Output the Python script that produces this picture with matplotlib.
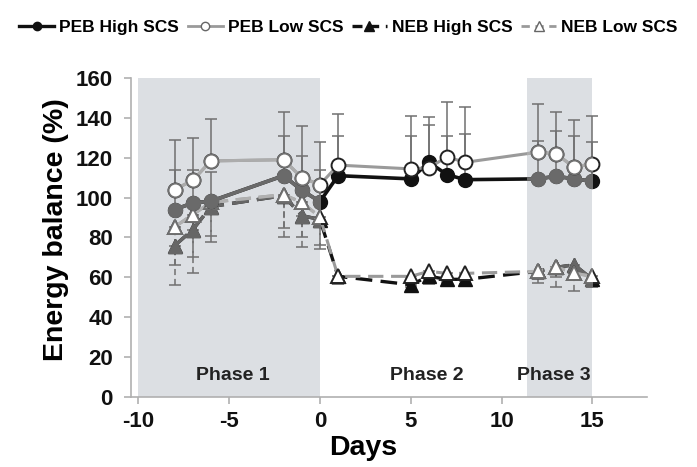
import matplotlib
matplotlib.use("Agg")
import matplotlib.pyplot as plt
import numpy as np
from matplotlib.patches import Rectangle
from matplotlib.lines import Line2D

plt.rcParams['font.family'] = ['Liberation Sans', 'DejaVu Sans']

# ---------------- data ----------------
days = [-8, -7, -6, -2, -1, 0, 1, 5, 6, 7, 8, 12, 13, 14, 15]

peb_high = [94, 97.3, 98.2, 111, 103.7, 98, 111, 109.4, 117.7, 111.5, 109, 109.4, 110.7, 109.4, 108.2]
peb_high_err = [19.6, 16.7, 14.8, 20, 17, 16, 19.8, 21.4, 18.8, 19.3, 22.8, 18.8, 22.6, 21.4, 19.8]

peb_low = [104, 108.7, 118.4, 119, 110, 106.5, 116.3, 114.4, 115, 120.4, 117.7, 122.8, 122, 115.2, 117]
peb_low_err = [25, 21, 21, 24, 26, 21.5, 25.4, 26.3, 25.3, 27.6, 27.9, 24.2, 21, 23.5, 23.7]

neb_high = [75.9, 83.9, 95.5, 101, 91, 89, 60.5, 56.3, 60.5, 59, 59, 63, 65, 66.3, 59]
neb_high_err = [19.9, 21.9, 18, 21, 16, 15, 3.9, 1.3, 3.9, 2, 2.4, 5.6, 9.7, 13, 4]

neb_low = [85.3, 91.5, 97.6, 101.5, 97.6, 90.3, 60.5, 60.5, 63, 62, 62, 63, 65.2, 62.1, 60.5]
neb_low_err = [19.3, 21.5, 17.1, 16.5, 17.6, 14.3, 2.5, 3.5, 4, 4, 4, 4, 5.2, 2.1, 3.5]

phases = ["Phase 1", "Phase 2", "Phase 3"]
phase_x = [-4.8, 5.9, 12.9]
phase_spans = [(-10, 0), (11.4, 15)]
xticks = [-10, -5, 0, 5, 10, 15]
yticks = [0, 20, 40, 60, 80, 100, 120, 140, 160]

# ---------------- figure ----------------
fig = plt.figure(figsize=(6.97, 4.67), dpi=100)
ax = fig.add_axes([0.188, 0.150, 0.740, 0.683])

shade = '#dcdfe3'
for a, b in phase_spans:
    ax.axvspan(a, b, ymin=0, ymax=1, color=shade, zorder=0, lw=0)

errc = '#707070'
z = np.zeros(len(days))
ekw = dict(fmt='none', ecolor=errc, elinewidth=1.1, capsize=4, capthick=1.1, zorder=2)
e1 = ax.errorbar(days, peb_low, yerr=[z, peb_low_err], **ekw)
e2 = ax.errorbar(days, peb_high, yerr=[z, peb_high_err], **ekw)
e3 = ax.errorbar(days, neb_high, yerr=[neb_high_err, z], **ekw)
e4 = ax.errorbar(days, neb_low, yerr=[neb_low_err, z], **ekw)
for e in (e3, e4):
    for lc in e[2]:
        lc.set_linestyle((0, (4, 2.5)))

dash = (0, (5, 2.5))
styles = [
    (neb_low, dict(color='#9a9a9a', ls=dash, lw=2.2, marker='^', ms=10, mfc='white', mec='#222222', mew=1.4),
              dict(color='#b0b0b0', ls=dash, lw=2.2, marker='^', ms=10, mfc='white', mec='#707070', mew=1.4), 4),
    (neb_high, dict(color='#111111', ls=dash, lw=2.4, marker='^', ms=10, mfc='#111111', mec='#111111', mew=1.0),
               dict(color='#666666', ls=dash, lw=2.4, marker='^', ms=10, mfc='#666666', mec='#666666', mew=1.0), 3),
    (peb_low, dict(color='#9a9a9a', ls='-', lw=2.2, marker='o', ms=10, mfc='white', mec='#222222', mew=1.4),
              dict(color='#acacac', ls='-', lw=2.2, marker='o', ms=10, mfc='white', mec='#707070', mew=1.4), 5),
    (peb_high, dict(color='#111111', ls='-', lw=2.6, marker='o', ms=10, mfc='#111111', mec='#111111', mew=1.0),
               dict(color='#6a6a6a', ls='-', lw=2.6, marker='o', ms=10, mfc='#6a6a6a', mec='#6a6a6a', mew=1.0), 4.5),
]

for data, kn, ks, zo in sorted(styles, key=lambda s: s[3]):
    ax.plot(days, data, zorder=zo, clip_on=False, **kn)
for data, kn, ks, zo in sorted(styles, key=lambda s: s[3]):
    for a, b in phase_spans:
        ln, = ax.plot(days, data, zorder=zo + 0.01, **ks)
        rect = Rectangle((a, -50), b - a, 300, transform=ax.transData)
        ln.set_clip_path(rect)

for name, px in zip(phases, phase_x):
    ax.text(px, 11, name, ha='center', va='center', fontsize=14, fontweight='bold', color='#222222', zorder=6)

ax.set_xlim(-10.4, 18.0)
ax.set_ylim(0, 160)
ax.set_xticks(xticks)
ax.set_yticks(yticks)
ax.set_xticklabels([str(t) for t in xticks], fontsize=16, fontweight='bold')
ax.set_yticklabels([str(t) for t in yticks], fontsize=16, fontweight='bold')
for s in ['top', 'right']:
    ax.spines[s].set_visible(False)
for s in ['left', 'bottom']:
    ax.spines[s].set_color('#b0b0b0')
    ax.spines[s].set_linewidth(1.2)
ax.tick_params(axis='both', colors='#b0b0b0', labelcolor='#111111', length=5, width=1.2)
ax.tick_params(axis='x', pad=5)
ax.tick_params(axis='y', pad=8)
ax.set_xlabel('Days', fontsize=20.5, fontweight='bold')
ax.xaxis.set_label_coords(0.45, -0.12)
ax.set_ylabel('Energy balance (%)', fontsize=20.5, fontweight='bold')
ax.yaxis.set_label_coords(-0.12, 0.525)

handles = [
    Line2D([], [], color='#111111', lw=2.4, marker='o', ms=6, mfc='#111111', mec='#111111'),
    Line2D([], [], color='#9a9a9a', lw=2.0, marker='o', ms=6, mfc='white', mec='#666666'),
    Line2D([], [], color='#111111', lw=2.4, ls=(0, (3, 2)), marker='^', ms=7, mfc='#111111', mec='#111111'),
    Line2D([], [], color='#9a9a9a', lw=2.0, ls=(0, (3, 2)), marker='^', ms=7, mfc='white', mec='#666666'),
]
labels = ['PEB High SCS', 'PEB Low SCS', 'NEB High SCS', 'NEB Low SCS']
fig.legend(handles, labels, loc='center', bbox_to_anchor=(0.5, 0.942), ncol=4, frameon=False,
           handlelength=2.0, handletextpad=0.3, columnspacing=0.5,
           prop={'weight': 'bold', 'size': 12.5})

fig.savefig('out.png', dpi=100)
